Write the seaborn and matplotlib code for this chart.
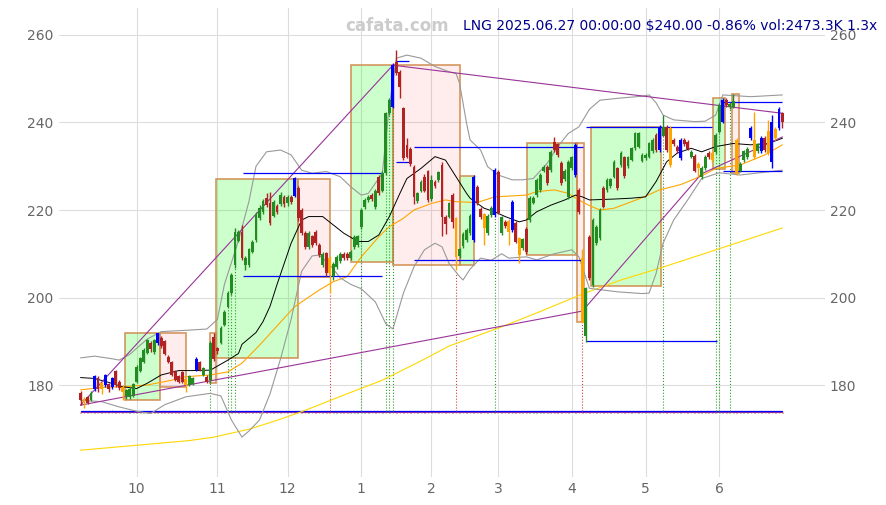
import numpy as np
import pandas as pd
import matplotlib
matplotlib.use("Agg")
import matplotlib.pyplot as plt
from matplotlib.patches import Rectangle
import seaborn as sns

# ---- daily candles (trading days from 2024-09-09) ----
opens = [178.2, 176.8, 177.2, 176.6, 179.0, 181.7, 180.5, 180.0, 180.2, 179.5,
         183.2, 180.8, 179.6, 177.4, 177.2, 177.6, 180.8, 183.3, 185.3, 187.4,
         189.7, 187.5, 189.5, 190.8, 190.0, 186.5, 185.3, 183.0, 182.0, 183.0,
         181.3, 180.0, 180.3, 183.5, 185.3, 182.3, 181.9, 181.1, 190.9, 188.4,
         189.7, 193.7, 197.9, 201.0, 207.4, 213.0, 215.0, 207.4, 207.4, 210.5,
         213.1, 218.2, 219.5, 222.7, 221.5, 218.7, 221.0, 221.4, 223.0, 221.5,
         223.0, 223.2, 225.0, 220.0, 214.7, 211.6, 214.0, 215.0, 212.0, 207.4,
         210.1, 209.0, 205.0, 207.0, 208.4, 210.0, 210.0, 209.0, 211.6, 212.0,
         216.2, 220.7, 222.3, 223.5, 220.7, 227.6, 224.4, 228.4, 242.1, 243.6,
         253.9, 251.6, 243.2, 234.9, 234.0, 229.9, 222.0, 224.4, 227.5, 228.8,
         222.5, 226.4, 226.8, 230.3, 218.5, 218.5, 223.5, 218.1, 209.5, 211.8,
         213.1, 214.7, 213.1, 225.3, 220.2, 219.0, 214.7, 218.9, 218.9, 228.7,
         214.7, 217.3, 217.5, 215.4, 217.0, 213.5, 211.3, 215.7, 217.7, 221.7,
         223.4, 224.5, 229.0, 229.9, 229.1, 235.6, 235.0, 230.7, 227.0, 223.0,
         229.5, 228.0, 224.6, 209.0, 191.1, 213.9, 202.9, 212.4, 213.5, 225.0,
         224.6, 225.5, 227.6, 229.5, 230.3, 232.0, 230.0, 231.5, 234.1, 234.5,
         231.3, 231.8, 232.2, 233.5, 237.1, 233.7, 237.0, 239.0, 238.7, 236.0,
         234.5, 231.8, 236.0, 235.5, 232.2, 232.4, 230.5, 227.5, 229.5, 233.0,
         233.0, 233.3, 237.9, 240.2, 245.1, 243.5, 243.6, 236.0, 229.0, 231.4,
         232.0, 236.4, 236.0, 233.5, 233.5, 236.4, 238.0, 231.0, 238.5, 238.7,
         242.1]
closes = [176.6, 176.0, 176.0, 178.2, 182.0, 179.0, 179.0, 182.2, 179.0, 181.5,
          179.9, 179.3, 178.5, 178.8, 179.2, 180.2, 184.2, 186.1, 188.0, 190.2,
          188.2, 190.2, 191.8, 188.9, 187.2, 185.3, 182.3, 181.2, 180.8, 180.8,
          180.0, 182.0, 181.6, 186.0, 183.5, 183.9, 180.8, 189.5, 186.0, 187.7,
          193.0, 196.8, 201.0, 205.1, 215.0, 215.0, 209.0, 209.0, 211.0, 212.8,
          219.2, 220.5, 222.0, 221.1, 217.0, 221.9, 219.6, 223.5, 221.3, 223.0,
          221.8, 227.2, 218.1, 214.7, 211.6, 214.7, 212.0, 212.4, 209.7, 210.0,
          205.5, 205.5, 207.7, 209.3, 209.9, 209.0, 209.0, 210.5, 213.9, 214.0,
          220.0, 222.3, 223.0, 222.5, 224.4, 223.8, 228.4, 242.1, 245.1, 253.1,
          251.2, 248.2, 231.8, 232.2, 230.5, 223.0, 223.8, 226.4, 224.4, 222.3,
          226.8, 225.5, 228.6, 218.5, 216.7, 221.5, 217.3, 209.3, 211.0, 214.6,
          215.4, 218.6, 227.6, 221.5, 218.3, 215.9, 218.6, 220.5, 229.1, 219.4,
          218.3, 216.3, 215.0, 221.9, 212.8, 209.7, 213.3, 210.3, 222.7, 222.7,
          226.9, 228.0, 229.8, 226.1, 233.3, 233.7, 232.5, 226.1, 229.0, 231.0,
          232.0, 234.9, 219.6, 194.5, 202.1, 204.4, 217.7, 216.2, 220.0, 220.8,
          226.9, 227.0, 231.0, 225.0, 233.0, 227.7, 232.0, 234.1, 237.5, 237.5,
          232.6, 232.6, 235.2, 236.0, 233.7, 239.0, 239.0, 233.7, 230.3, 235.0,
          233.4, 236.0, 235.0, 234.0, 233.3, 229.0, 229.5, 229.6, 232.2, 232.0,
          231.4, 237.1, 244.0, 245.1, 244.0, 244.3, 245.0, 228.4, 230.5, 233.4,
          234.0, 238.7, 232.0, 235.0, 236.5, 233.7, 233.0, 240.0, 236.5, 243.0,
          240.0]
highs = [178.6, 177.2, 177.6, 178.6, 182.4, 182.0, 180.8, 182.5, 180.5, 181.8,
         183.5, 181.2, 180.0, 179.2, 179.5, 180.5, 184.6, 186.4, 188.4, 190.6,
         190.0, 190.6, 192.0, 191.2, 190.3, 186.9, 185.6, 183.4, 182.3, 183.3,
         181.6, 182.3, 181.9, 186.4, 185.6, 184.2, 182.2, 190.0, 191.8, 188.8,
         193.4, 197.2, 201.4, 205.5, 216.0, 215.4, 216.5, 209.4, 211.4, 213.2,
         219.6, 221.2, 222.6, 223.8, 224.0, 222.4, 221.4, 224.0, 223.5, 223.4,
         223.4, 227.5, 225.5, 220.4, 215.2, 215.1, 214.4, 215.4, 212.4, 210.5,
         210.5, 209.4, 208.1, 209.7, 210.3, 210.4, 210.4, 210.9, 214.3, 214.4,
         220.4, 222.7, 223.4, 223.9, 224.8, 228.0, 228.8, 242.5, 245.5, 253.5,
         256.6, 252.0, 243.6, 236.5, 234.4, 230.3, 224.2, 226.8, 228.3, 229.2,
         228.0, 226.8, 229.0, 231.0, 218.9, 221.9, 223.9, 218.5, 211.4, 215.0,
         215.8, 219.0, 228.0, 225.7, 220.6, 219.4, 219.0, 220.9, 229.5, 229.1,
         218.7, 217.7, 217.9, 222.3, 217.4, 213.9, 213.7, 216.1, 223.1, 223.1,
         227.3, 228.4, 230.2, 230.3, 233.7, 236.6, 235.4, 231.1, 229.4, 231.4,
         232.4, 235.3, 225.0, 211.2, 202.5, 214.3, 218.1, 216.6, 220.4, 225.4,
         227.3, 227.4, 231.4, 229.9, 233.4, 232.4, 232.4, 234.5, 237.9, 237.9,
         233.0, 233.0, 235.6, 236.4, 237.5, 239.4, 241.7, 239.4, 239.1, 236.4,
         234.9, 236.4, 236.4, 235.9, 233.7, 232.8, 230.9, 230.0, 232.6, 233.4,
         233.4, 237.5, 244.4, 245.5, 245.5, 244.7, 246.5, 236.4, 230.9, 233.8,
         234.4, 239.1, 242.5, 235.4, 236.9, 236.8, 240.6, 241.7, 238.9, 243.6,
         242.5]
lows = [175.5, 174.8, 175.6, 176.3, 178.7, 178.5, 178.0, 179.6, 178.5, 179.2,
        179.5, 178.8, 176.6, 176.8, 176.9, 177.3, 180.5, 183.0, 185.0, 187.0,
        187.5, 187.2, 189.2, 188.5, 186.9, 185.0, 182.0, 180.9, 180.5, 180.5,
        178.5, 179.7, 180.0, 183.2, 183.2, 182.0, 180.4, 180.5, 185.6, 187.2,
        189.3, 193.4, 197.5, 200.6, 206.8, 212.6, 208.6, 206.3, 207.0, 210.1,
        212.7, 217.8, 219.0, 220.6, 216.5, 218.3, 219.0, 221.0, 220.8, 221.0,
        221.3, 223.0, 217.6, 214.2, 211.1, 211.2, 211.6, 211.9, 209.2, 207.0,
        205.0, 201.0, 204.0, 206.6, 208.0, 208.6, 208.6, 208.6, 211.2, 211.6,
        215.6, 220.3, 221.9, 222.1, 220.3, 223.4, 224.0, 228.0, 241.7, 243.2,
        250.8, 245.6, 231.4, 231.8, 230.0, 221.4, 221.6, 224.0, 224.0, 221.9,
        222.1, 225.1, 226.4, 214.0, 214.5, 218.1, 216.0, 206.4, 209.1, 211.4,
        212.7, 214.3, 212.7, 221.1, 217.9, 212.0, 214.3, 218.5, 218.5, 219.0,
        214.3, 215.9, 212.0, 215.0, 212.4, 207.8, 210.9, 209.9, 217.3, 221.3,
        223.0, 224.1, 228.6, 225.7, 228.7, 233.3, 232.1, 225.7, 226.6, 222.6,
        229.1, 227.6, 219.2, 194.1, 189.9, 204.0, 202.5, 212.0, 213.1, 220.4,
        224.2, 225.1, 227.2, 224.6, 229.9, 227.3, 229.6, 231.1, 233.7, 234.1,
        230.9, 231.4, 231.8, 233.1, 233.3, 233.3, 236.6, 233.3, 229.9, 234.6,
        233.0, 231.4, 234.6, 233.6, 231.8, 228.6, 227.5, 227.1, 229.1, 231.6,
        231.0, 232.9, 237.5, 239.8, 243.6, 243.1, 243.2, 228.0, 228.6, 231.0,
        231.6, 236.0, 231.6, 233.1, 233.1, 233.3, 232.6, 229.5, 236.1, 238.3,
        238.7]
# relative volume (bottom strip)
volume = [1.0, 1.0, 0.9, 1.0, 1.1, 1.0, 1.0, 1.0, 0.9, 2.0, 1.0, 1.0, 1.0, 0.9, 1.0, 1.0, 1.0, 1.0, 1.0, 1.0,
          1.0, 1.0, 1.1, 1.0, 1.0, 1.0, 1.0, 1.0, 1.0, 1.0, 1.0, 1.0, 1.0, 1.1, 1.0, 1.0, 1.0, 1.2, 1.0, 1.0,
          1.0, 1.0, 1.2, 1.2, 1.2, 1.0, 1.0, 1.0, 1.0, 1.0, 1.0, 1.0, 1.0, 1.0, 1.0, 1.0, 1.0, 1.0, 1.0, 1.0,
          1.0, 1.1, 1.0, 1.0, 1.0, 1.0, 1.0, 1.0, 1.0, 1.0, 1.0, 1.2, 1.0, 1.0, 1.0, 1.0, 1.0, 1.0, 1.0, 1.0,
          1.1, 1.0, 1.0, 1.0, 1.0, 1.0, 1.0, 1.4, 1.4, 1.8, 1.5, 1.3, 1.6, 1.2, 1.2, 1.3, 1.0, 1.0, 1.0, 1.1,
          1.0, 1.0, 1.0, 1.4, 1.1, 1.0, 1.1, 1.5, 1.0, 1.0, 1.0, 1.0, 1.3, 1.0, 1.0, 1.1, 1.0, 1.0, 1.3, 1.1,
          1.0, 1.0, 1.1, 1.1, 1.0, 1.1, 1.0, 1.0, 1.1, 1.0, 1.0, 1.0, 1.0, 1.0, 1.0, 1.0, 1.0, 1.0, 1.0, 1.0,
          1.0, 1.1, 1.2, 1.6, 1.7, 1.4, 1.3, 1.1, 1.0, 1.0, 1.0, 1.0, 1.0, 1.0, 1.0, 1.0, 1.0, 1.0, 1.0, 1.0,
          1.0, 1.0, 1.0, 1.0, 1.0, 1.2, 1.3, 1.0, 1.3, 1.0, 1.0, 1.1, 1.0, 1.0, 1.0, 1.0, 1.1, 1.0, 1.0, 1.0,
          1.1, 1.0, 1.2, 1.3, 1.0, 1.0, 1.0, 1.5, 1.0, 1.0, 1.0, 1.1, 1.1, 1.0, 1.1, 1.0, 1.1, 1.2, 1.1, 1.1,
          1.2]

blue_days = [4, 7, 9, 22, 33, 61, 89, 112, 118, 123, 141, 165, 171, 183, 191, 194, 197, 199]
orange_days = [1, 6, 12, 30, 71, 107, 115, 122, 125, 143, 168, 176, 180, 187, 192, 196, 198]

# ---- indicator lines, sampled at (day index, price) ----
ma_day = [0, 4, 8, 12, 16, 19, 23, 28, 32, 37, 42, 45, 46, 50, 52, 54, 56, 60, 63, 65,
          69, 72, 75, 79, 82, 85, 88, 91, 93, 97, 101, 104, 107, 110, 111, 115, 118, 121, 125, 127,
          130, 134, 138, 141, 143, 145, 152, 157, 161, 164, 167, 170, 174, 177, 181, 186, 191, 196, 200]
ma_val = [181.7, 181.5, 180.6, 179.6, 179.2, 180.4, 182.3, 183.3, 183.3, 183.4, 185.7, 187.2, 189.3, 192.0,
          194.5, 198.0, 203.0, 212.4, 217.7, 218.5, 218.5, 216.6, 214.7, 212.8, 212.8, 214.3, 218.5, 223.8,
          227.2, 229.5, 232.2, 231.4, 227.6, 223.8, 222.7, 220.4, 219.6, 218.5, 217.3, 217.7, 219.6, 221.1,
          222.3, 223.4, 223.0, 222.3, 222.5, 222.7, 223.0, 226.5, 231.0, 233.0, 234.1, 233.3, 234.5, 235.2,
          234.9, 235.2, 236.4]

upper_day = [0, 4, 9, 11, 14, 19, 23, 30, 36, 39, 41, 45, 48, 50, 53, 57, 60, 63, 66, 70,
             74, 77, 80, 82, 86, 88, 90, 93, 97, 101, 105, 107, 108, 110, 111, 114, 116, 119, 123, 126,
             129, 133, 136, 139, 142, 145, 148, 154, 160, 162, 164, 166, 169, 175, 178, 181, 183, 191, 200]
upper_val = [186.2, 186.6, 186.0, 185.7, 187.0, 190.5, 192.2, 192.5, 192.8, 195.0, 203.0, 213.0, 222.0,
             230.0, 233.3, 233.7, 232.6, 229.1, 228.4, 228.8, 227.6, 225.3, 223.4, 223.8, 228.4, 244.0,
             254.7, 255.4, 254.7, 252.8, 251.6, 251.2, 249.0, 239.8, 236.0, 233.7, 229.9, 228.0, 226.9,
             226.9, 227.2, 230.7, 234.5, 237.5, 239.0, 243.0, 245.1, 245.6, 246.0, 246.3, 244.5, 241.7,
             240.6, 240.2, 240.3, 241.7, 246.3, 245.9, 246.3]

lower_day = [0, 6, 11, 16, 20, 24, 30, 37, 40, 43, 46, 48, 51, 54, 57, 60, 63, 66, 68, 71,
             74, 77, 80, 84, 87, 89, 92, 95, 98, 101, 103, 105, 108, 109, 111, 114, 117, 120, 122, 127,
             130, 135, 140, 142, 145, 153, 160, 162, 164, 166, 169, 173, 177, 182, 188, 200]
lower_val = [176.5, 176.2, 175.0, 174.0, 173.5, 175.5, 177.3, 178.1, 177.5, 172.0, 168.1, 169.5, 172.0,
             178.0, 186.0, 195.0, 206.0, 209.5, 209.7, 207.5, 204.5, 203.0, 202.0, 199.0, 194.0, 192.8,
             201.0, 207.0, 210.9, 212.4, 211.6, 207.8, 204.8, 204.0, 206.5, 209.0, 208.5, 210.0, 209.0,
             209.3, 208.6, 210.0, 210.9, 209.3, 202.1, 201.3, 200.9, 201.0, 205.5, 212.4, 217.7, 222.3,
             227.2, 228.5, 228.0, 229.1]

ma50_day = [0, 7, 12, 19, 26, 30, 37, 42, 46, 51, 61, 68, 72, 76, 80, 85, 88, 92, 95, 100,
            104, 107, 113, 118, 127, 130, 135, 139, 142, 145, 148, 152, 160, 165, 171, 177, 181, 188, 195, 200]
ma50_val = [178.9, 179.5, 179.6, 180.0, 181.1, 181.9, 182.3, 183.0, 185.0, 189.1, 197.9, 201.7, 203.6,
            204.8, 209.3, 213.9, 216.2, 218.1, 220.0, 221.5, 222.3, 221.9, 221.7, 223.0, 223.4, 224.2,
            224.6, 223.8, 222.3, 221.0, 220.0, 220.4, 222.8, 224.6, 225.8, 227.8, 229.5, 230.3, 232.6, 234.9]

ma200_day = [0, 17, 31, 38, 48, 52, 57, 64, 75, 86, 97, 105, 120, 131, 143, 154, 165, 178, 189, 200]
ma200_val = [165.1, 166.3, 167.3, 168.1, 169.9, 170.9, 172.2, 174.2, 177.7, 181.1, 185.5, 188.9, 193.3,
             196.8, 200.8, 204.0, 206.7, 210.1, 213.0, 215.9]

# zigzag trend lines
zig_hi_day = [0, 89, 200]
zig_hi_val = [175.4, 253.1, 242.1]
zig_lo_day = [0, 143, 177, 200]
zig_lo_val = [175.4, 196.9, 228.3, 236.7]

# swing boxes: start day, end day, low, high, direction
box_start = [12.6, 22.6, 36.8, 38.5, 62.1, 77.0, 89.1, 108.1, 127.1, 141.6, 145.4, 180.3, 185.5]
box_end = [22.6, 30.0, 38.5, 62.1, 71.1, 89.1, 108.1, 112.1, 141.6, 143.6, 165.4, 183.6, 187.7]
box_low = [176.6, 179.5, 180.4, 186.1, 204.7, 208.1, 207.4, 207.4, 209.7, 194.4, 202.6, 229.3, 228.5]
box_high = [191.8, 191.8, 191.8, 227.0, 227.0, 253.1, 253.1, 227.8, 235.4, 235.4, 238.9, 245.6, 246.5]
box_up = [True, False, False, True, False, True, False, True, True, False, True, True, False]

# support / resistance segments
sr_start = [46.4, 46.4, 90.0, 90.0, 94.9, 94.9, 143.9, 143.9, 183.2, 183.2]
sr_end = [86.0, 86.0, 93.7, 94.0, 143.3, 143.3, 181.5, 180.0, 200.0, 200.0]
sr_level = [205.0, 228.5, 254.0, 231.0, 234.5, 208.6, 190.0, 239.0, 244.6, 229.0]

buy_days = [37, 42, 43, 44, 80, 87, 88, 89, 118, 166, 181, 182, 185]
sell_days = [71, 107, 143]

holidays = ["2024-11-28", "2024-12-25", "2025-01-01", "2025-01-09", "2025-01-20",
            "2025-02-17", "2025-04-18", "2025-05-26", "2025-06-19"]
dates = pd.bdate_range("2024-09-09", "2025-06-27", freq="C", holidays=holidays)

# ---- figure ----
sns.set_style("whitegrid", {"grid.color": "#e0e0e0", "axes.edgecolor": "white"})
fig = plt.figure(figsize=(8.87, 5.05), dpi=100)
ax = fig.add_axes([0.066, 0.056, 0.864, 0.928])

n = len(closes)
days = np.arange(n)

# boxes
for x0, x1, lo, hi, up in zip(box_start, box_end, box_low, box_high, box_up):
    face = (0.0, 1.0, 0.0, 0.2) if up else (1.0, 0.0, 0.0, 0.07)
    ax.add_patch(Rectangle((x0, lo), x1 - x0, hi - lo, facecolor=face,
                           edgecolor=(0.82, 0.55, 0.3, 0.9), lw=1.2, zorder=1))

# volume strip
vol_col = ["#7fbf7f" if c >= o else "#d98c8c" for o, c in zip(opens, closes)]
ax.bar(days, np.array(volume) * 0.55, bottom=173.45, width=0.75, color=vol_col, zorder=1.5)
ax.plot([0, n - 1], [173.9, 173.9], color="#993399", lw=0.8, zorder=1.6)
ax.plot([0, n - 1], [174.05, 174.05], color="#0000ff", lw=0.9, zorder=1.7)

# signal dotted lines
for d in buy_days:
    ax.vlines(d, 174.0, lows[d], colors="#2e9e2e", linestyles=":", lw=0.8, zorder=1.8)
for d in sell_days:
    ax.vlines(d, 174.0, lows[d], colors="#d04040", linestyles=":", lw=0.8, zorder=1.8)

# indicator lines
sns.lineplot(x=ma200_day, y=ma200_val, ax=ax, color="#ffd700", lw=0.8, zorder=2)
sns.lineplot(x=ma50_day, y=ma50_val, ax=ax, color="#ffa500", lw=0.8, zorder=2)
sns.lineplot(x=upper_day, y=upper_val, ax=ax, color="#999999", lw=0.8, zorder=2)
sns.lineplot(x=lower_day, y=lower_val, ax=ax, color="#999999", lw=0.8, zorder=2)
sns.lineplot(x=ma_day, y=ma_val, ax=ax, color="black", lw=0.7, zorder=2)
sns.lineplot(x=zig_hi_day, y=zig_hi_val, ax=ax, color="#993399", lw=0.8, zorder=2)
sns.lineplot(x=zig_lo_day, y=zig_lo_val, ax=ax, color="#993399", lw=0.8, zorder=2)

for x0, x1, lv in zip(sr_start, sr_end, sr_level):
    ax.hlines(lv, x0, x1, colors="#0000ff", lw=0.9, zorder=2.2)

# candles
colors = []
for i, (o, c) in enumerate(zip(opens, closes)):
    if i in blue_days:
        colors.append("#0000ff")
    elif i in orange_days:
        colors.append("#ffa500")
    elif c >= o:
        colors.append("#228b22")
    else:
        colors.append("#b22222")
ax.vlines(days, lows, highs, colors=colors, lw=1.0, zorder=3)
body_lo = np.minimum(opens, closes)
body_h = np.maximum(np.abs(np.array(closes) - np.array(opens)), 0.15)
ax.bar(days, body_h, bottom=body_lo, width=0.8, color=colors, lw=0, zorder=3.1)

# axes styling
ax.set_xlim((58.5 - 80.5) / 3.51, (825 - 80.5) / 3.51)
ax.set_ylim(159.04, 266.15)
ax.set_yticks([180, 200, 220, 240, 260])
month_pos = [i for i in range(1, len(dates)) if dates[i].month != dates[i - 1].month]
ax.set_xticks(month_pos)
ax.set_xticklabels([str(dates[i].month) for i in month_pos])
ax.set_xlabel("")
ax.set_ylabel("")
ax.grid(True, color="#dddddd", lw=0.8)
ax.set_axisbelow(True)
ax.tick_params(axis="both", length=0, labelsize=10, labelcolor="#666666",
               labelright=True, labelleft=True)
for s in ax.spines.values():
    s.set_visible(False)

fig.text(0.448, 0.949, "cafata.com", ha="center", va="center", color="#cccccc",
         fontsize=12, fontweight="bold")
fig.text(0.989, 0.949, "LNG 2025.06.27 00:00:00 $240.00 -0.86% vol:2473.3K 1.3x",
         ha="right", va="center", color="#00008b", fontsize=10)

fig.savefig("out.png", dpi=100)
